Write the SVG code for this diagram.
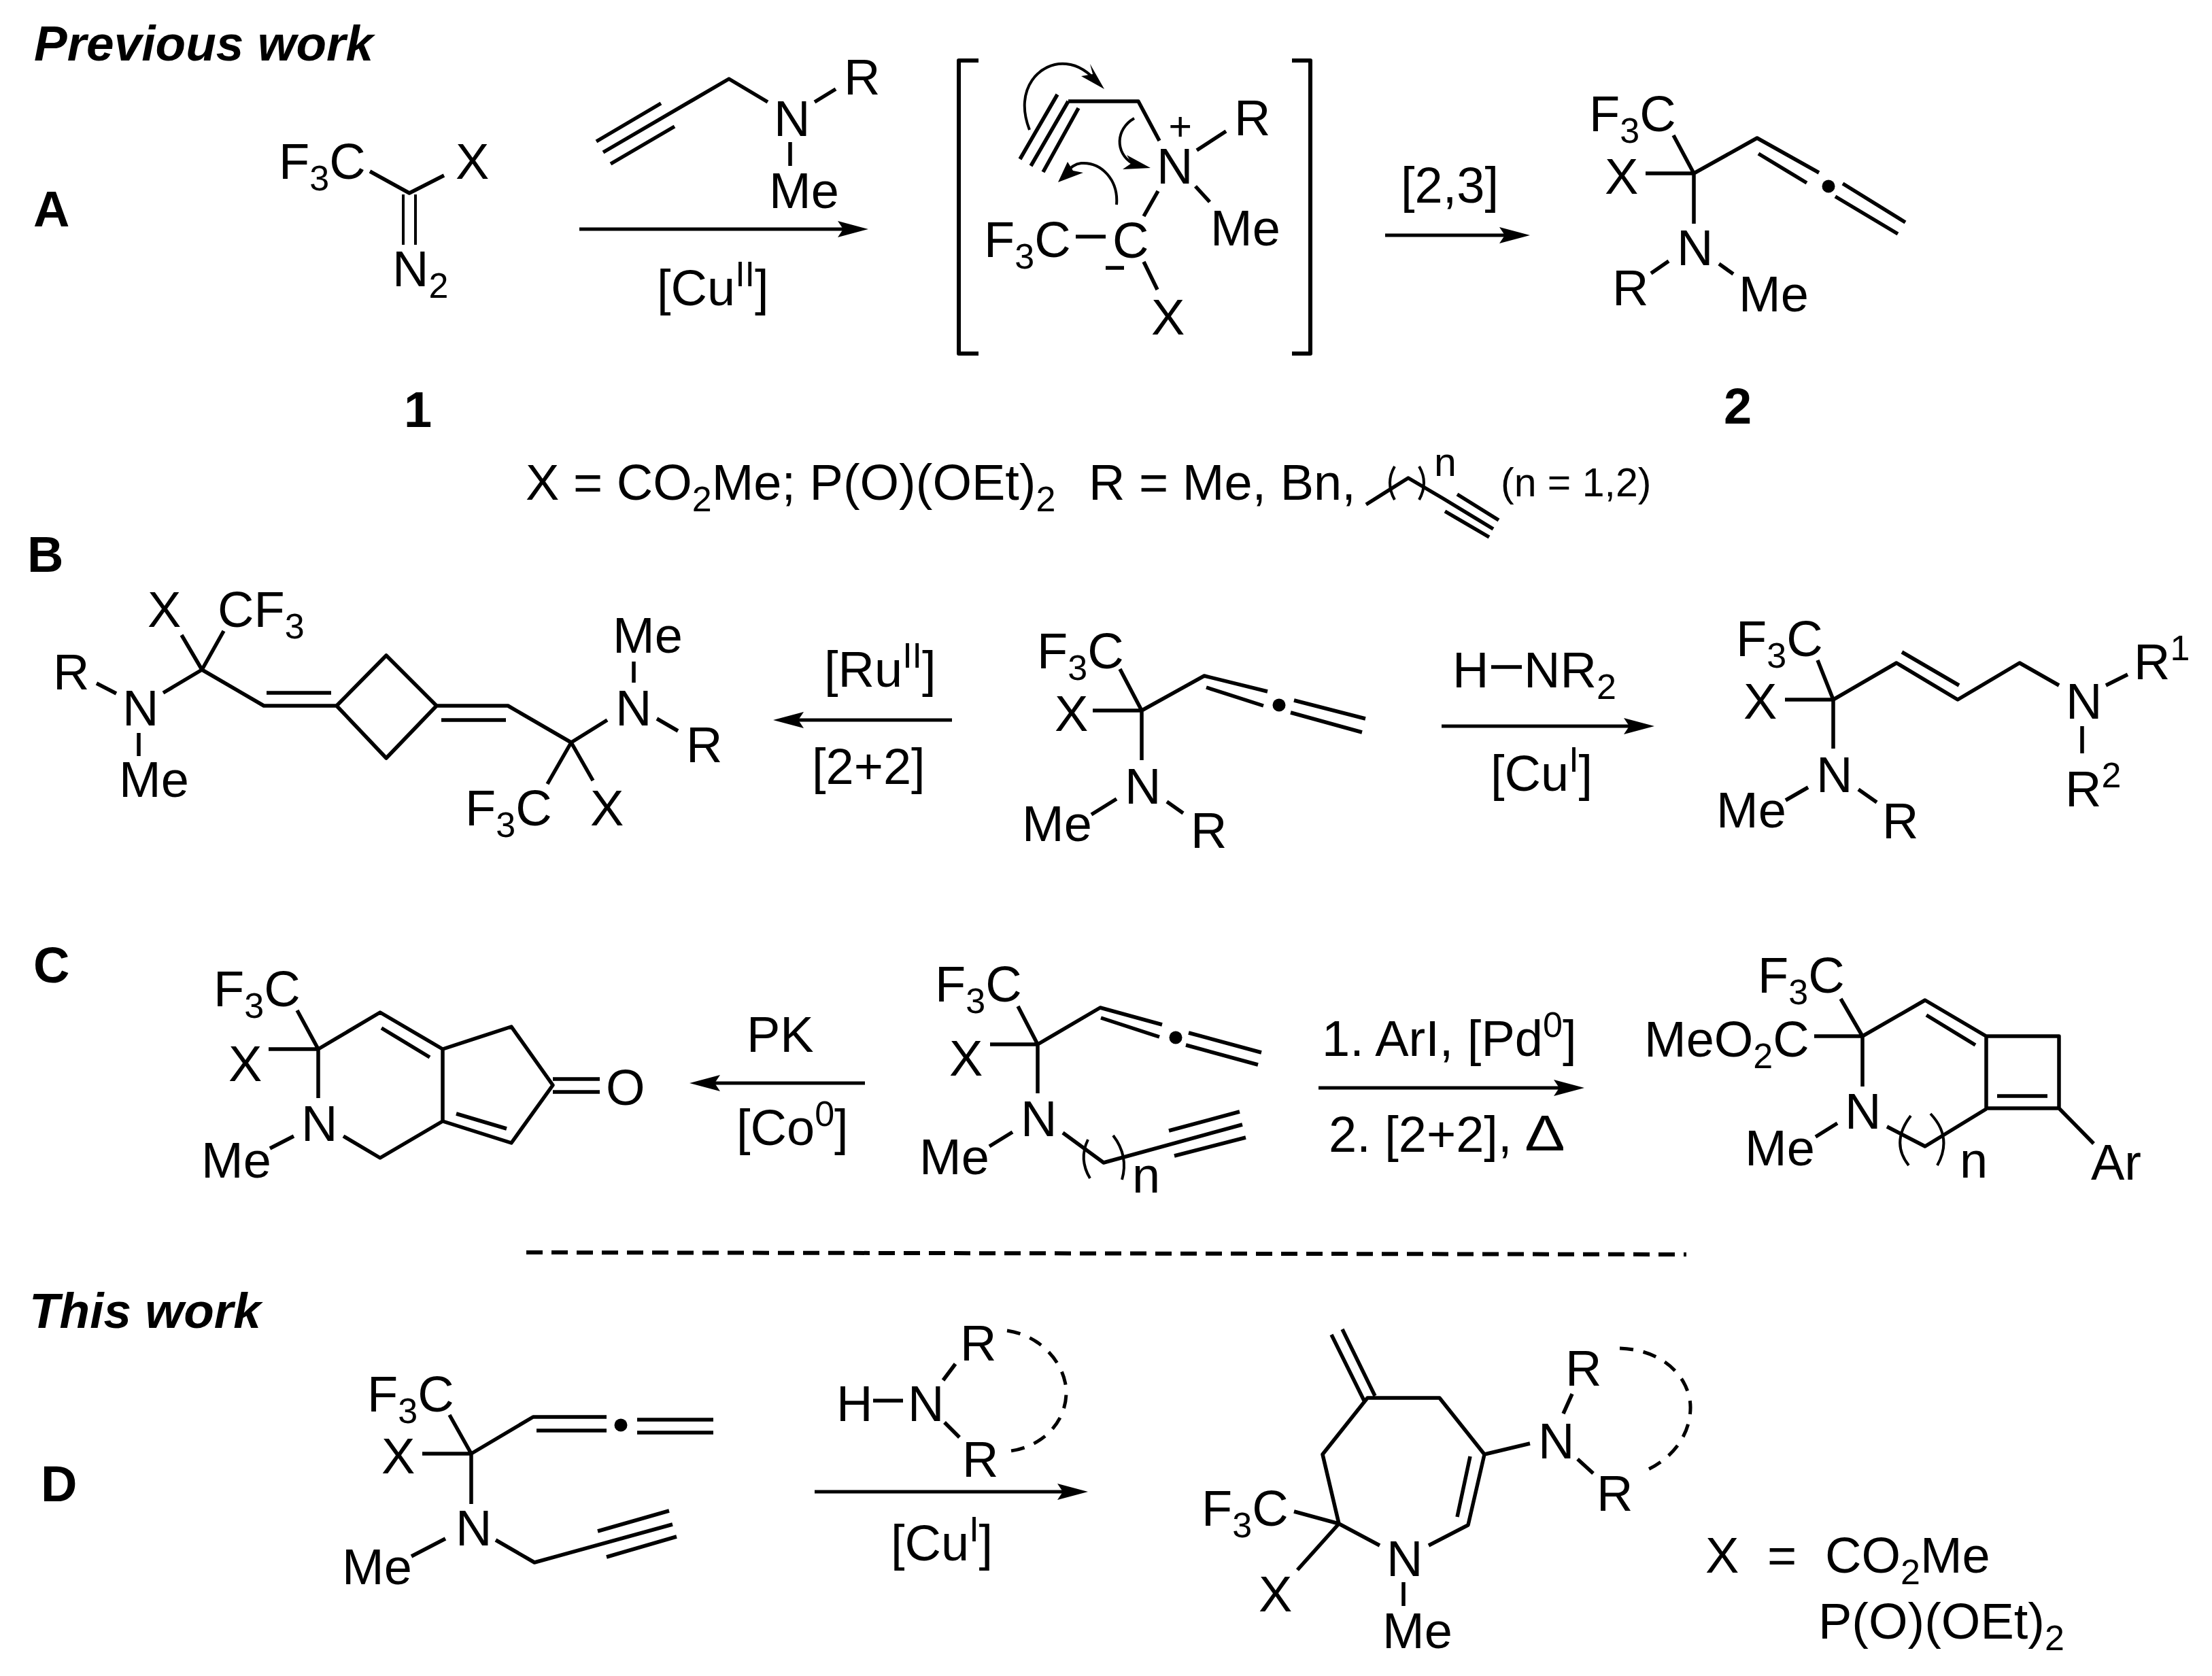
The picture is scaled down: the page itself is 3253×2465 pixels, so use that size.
<svg xmlns="http://www.w3.org/2000/svg" width="3253" height="2465" viewBox="0 0 3253 2465">
<defs>
<style>
text{font-family:"Liberation Sans",Arial,sans-serif;font-size:74px;fill:#000;transform:translateX(-4px)}
.h{font-weight:bold;font-style:italic;font-size:73px;transform:none}
.l{font-weight:bold;font-size:74px;transform:none}
.s{font-size:52px}
.m{font-size:59px}
.bd{fill:none;stroke:#000;stroke-width:5.5;stroke-linejoin:round}
.ar{fill:none;stroke:#000;stroke-width:5;marker-end:url(#head)}
.th{fill:none;stroke:#000;stroke-width:4}
.da{fill:none;stroke:#000;stroke-width:5;stroke-dasharray:20 15}
.dot{fill:#000}
</style>
<marker id="head" markerUnits="userSpaceOnUse" markerWidth="46" markerHeight="28" refX="25" refY="14" orient="auto"><path d="M0,2 L45,14 L0,26 L8,14z" fill="#000"/></marker>
</defs>
<rect width="3253" height="2465" fill="#fff"/>

<g id="labels">
<text class="h" x="50" y="89">Previous work</text>
<text class="h" x="43" y="1953">This work</text>
<text class="l" x="49" y="333">A</text>
<text class="l" x="40" y="841">B</text>
<text class="l" x="49" y="1445">C</text>
<text class="l" x="60" y="2208">D</text>
<text class="l" x="594" y="628">1</text>
<text class="l" x="2535" y="623">2</text>
</g>

<g id="connectors">
<path class="ar" d="M852,337H1257"/>
<path class="ar" d="M2037,346H2230"/>
<path class="ar" d="M1400,1059H1157"/>
<path class="ar" d="M2120,1068H2413"/>
<path class="ar" d="M1272,1593H1034"/>
<path class="ar" d="M1939,1600H2310"/>
<path class="ar" d="M1198,2194H1580"/>
<path style="fill:none;stroke:#000;stroke-width:6;stroke-dasharray:24 13" d="M774,1842L2480,1845"/>
</g>

<g id="cond-a1"><text x="970" y="449">[Cu<tspan class="s" dy="-28">II</tspan><tspan dy="28">]</tspan></text></g>
<g id="cond-a2"><text x="2064" y="298">[2,3]</text></g>
<g id="cond-b1"><text x="1216" y="1010">[Ru<tspan class="s" dy="-28">II</tspan><tspan dy="28">]</tspan></text><text x="1198" y="1153">[2+2]</text></g>
<g id="cond-b2"><text x="2140" y="1011">H</text><path class="bd" d="M2193,981H2238"/><text x="2245" y="1011">NR<tspan class="s" dy="17">2</tspan></text><text x="2196" y="1163">[Cu<tspan class="s" dy="-28">I</tspan><tspan dy="28">]</tspan></text></g>
<g id="cond-c1"><text x="1102" y="1547">PK</text><text x="1087" y="1684">[Co<tspan class="s" dy="-28">0</tspan><tspan dy="28">]</tspan></text></g>
<g id="cond-c2"><text x="1948" y="1553">1. ArI, [Pd<tspan class="s" dy="-28">0</tspan><tspan dy="28">]</tspan></text><text x="1958" y="1694">2. [2+2],</text><g transform="translate(2247,1692) scale(1.2,1)"><text>Δ</text></g></g>
<g id="cond-d"><text x="1314" y="2295">[Cu<tspan class="s" dy="-28">I</tspan><tspan dy="28">]</tspan></text></g>

<g id="mol-1">
<text x="414" y="263">F<tspan class="s" dy="17">3</tspan><tspan dy="-17">C</tspan></text>
<text x="674" y="263">X</text>
<text x="581" y="421">N<tspan class="s" dy="17">2</tspan></text>
<path class="bd" d="M544,252L602,284L653,258"/>
<path class="th" d="M593,286V360M611,286V360"/>
</g>

<g id="reagent-a">
<text x="1142" y="200">N</text><text x="1245" y="139">R</text><text x="1135" y="306">Me</text>
<path class="bd" d="M887,224L1072,116L1129,150M877,208L972,152M898,241L992,186M1198,150L1229,131M1162,209V244"/>
</g>

<g id="intermediate">
<path class="bd" style="stroke-width:6" d="M1439,89H1410V520H1439M1900,89H1927V520H1900"/>
<text x="1451" y="378">F<tspan class="s" dy="17">3</tspan><tspan dy="-17">C</tspan></text>
<text x="1640" y="379">C</text>
<text x="1705" y="270">N<tspan class="m" dx="-36" dy="-64">+</tspan></text>
<text x="1819" y="199">R</text>
<text x="1784" y="361">Me</text>
<text x="1697" y="492">X</text>
<path class="bd" d="M1555,139L1500,234M1571,149L1516,244M1586,159L1534,253M1571,149H1674L1705,207M1760,221L1803,193M1758,274L1779,297M1703,281L1682,318M1682,385L1702,426M1582,348H1626M1626,394H1653"/>
<path class="th" d="M1514,191C1490,130 1530,90 1568,94C1590,96 1605,110 1616,124"/>
<path class="dot" d="M1624,131L1590,112L1607,109L1603,94z"/>
<path class="th" d="M1642,301C1645,265 1620,238 1590,240C1580,241 1572,248 1566,256"/>
<path class="dot" d="M1556,268L1570,238L1578,251L1593,254z"/>
<path class="th" d="M1668,174C1640,190 1640,225 1665,240"/>
<path class="dot" d="M1692,247L1657,228L1664,240L1651,249z"/>
</g>

<g id="mol-2">
<text x="2341" y="193">F<tspan class="s" dy="17">3</tspan><tspan dy="-17">C</tspan></text>
<text x="2364" y="285">X</text>
<text x="2470" y="390">N</text>
<text x="2375" y="449">R</text>
<text x="2561" y="458">Me</text>
<path class="bd" d="M2461,199L2491,255L2584,203L2675,254M2586,226L2657,269M2420,255H2491V329M2710,270L2802,327M2699,289L2791,344M2454,384L2428,402M2528,388L2549,403"/>
<circle class="dot" cx="2689" cy="274" r="9.5"/>
</g>

<g id="definitions-a">
<text x="777" y="735">X = CO<tspan class="s" dy="17">2</tspan><tspan dy="-17">Me; P(O)(OEt)</tspan><tspan class="s" dy="17">2</tspan></text>
<text x="1605" y="735">R = Me, Bn,</text>
<text x="2113" y="700" class="m">n</text>
<text x="2211" y="730" class="m">(n = 1,2)</text>
<path class="bd" d="M2009,742L2071,703L2122,733L2196,778M2143,727L2204,765M2125,752L2190,790"/>
<path class="th" d="M2051,686Q2037,710 2051,735M2087,686Q2101,710 2087,735"/>
</g>

<g id="mol-b-left">
<text x="221" y="922">X</text>
<text x="324" y="922">CF<tspan class="s" dy="17">3</tspan></text>
<text x="82" y="1014">R</text>
<text x="184" y="1067">N</text>
<text x="179" y="1172">Me</text>
<text x="905" y="960">Me</text>
<text x="909" y="1067">N</text>
<text x="1013" y="1121">R</text>
<text x="688" y="1214">F<tspan class="s" dy="17">3</tspan><tspan dy="-17">C</tspan></text>
<text x="872" y="1214">X</text>
<path class="bd" d="M267,934L297,985L329,928M142,1005L171,1020M240,1019L297,985L388,1038H495M392,1019H487M204,1078V1112M495,1038L568,964L642,1038L568,1115Z M642,1038H747L840,1092M649,1059H744M932,973V1004M893,1059L840,1092M966,1057L997,1075M840,1092L805,1153M840,1092L872,1148"/>
</g>

<g id="mol-b-center">
<text x="1529" y="983">F<tspan class="s" dy="17">3</tspan><tspan dy="-17">C</tspan></text>
<text x="1555" y="1075">X</text>
<text x="1658" y="1182">N</text>
<text x="1507" y="1237">Me</text>
<text x="1755" y="1247">R</text>
<path class="bd" d="M1647,984L1679,1045L1771,994L1864,1017M1607,1045H1679V1118M1642,1175L1605,1198M1716,1179L1740,1196M1774,1011L1858,1038M1903,1030L2008,1057M1898,1048L2003,1077"/>
<circle class="dot" cx="1881" cy="1037" r="9.5"/>
</g>

<g id="mol-b-right">
<text x="2557" y="965">F<tspan class="s" dy="17">3</tspan><tspan dy="-17">C</tspan></text>
<text x="2568" y="1057">X</text>
<text x="2675" y="1165">N</text>
<text x="2528" y="1217">Me</text>
<text x="2772" y="1233">R</text>
<text x="3042" y="1057">N</text>
<text x="3142" y="999">R<tspan class="s" dy="-28">1</tspan></text>
<text x="3041" y="1186">R<tspan class="s" dy="-28">2</tspan></text>
<path class="bd" d="M2673,971L2696,1029L2789,975L2879,1029L2970,975L3028,1008M2625,1029H2696V1101M2659,1158L2626,1177M2733,1161L2760,1180M2797,959L2881,1008M3097,1008L3129,992M3062,1068V1108"/>
</g>

<g id="mol-c-left">
<text x="318" y="1480">F<tspan class="s" dy="17">3</tspan><tspan dy="-17">C</tspan></text>
<text x="340" y="1590">X</text>
<text x="447" y="1678">N</text>
<text x="300" y="1732">Me</text>
<text x="895" y="1625">O</text>
<path class="bd" d="M437,1486L468,1543L559,1489L651,1543V1649L559,1703L505,1671M395,1543H468V1615M432,1671L397,1689M561,1512L632,1555M651,1543L752,1510L813,1596L752,1681L651,1649M671,1638L745,1660M813,1587H882M813,1606H882"/>
</g>

<g id="mol-c-center">
<text x="1379" y="1473">F<tspan class="s" dy="17">3</tspan><tspan dy="-17">C</tspan></text>
<text x="1400" y="1582">X</text>
<text x="1505" y="1671">N</text>
<text x="1356" y="1727">Me</text>
<text x="1669" y="1754">n</text>
<path class="bd" d="M1497,1480L1526,1536L1618,1482L1709,1507M1456,1536H1526V1608M1489,1665L1455,1686M1619,1497L1705,1525M1748,1519L1855,1548M1744,1537L1850,1566M1563,1666L1623,1710L1827,1654M1719,1663L1823,1635M1727,1700L1832,1673"/>
<path class="th" d="M1600,1676Q1586,1705 1603,1733M1637,1670Q1660,1700 1650,1735"/>
<circle class="dot" cx="1729" cy="1526" r="9.5"/>
</g>

<g id="mol-c-right">
<text x="2589" y="1460">F<tspan class="s" dy="17">3</tspan><tspan dy="-17">C</tspan></text>
<text x="2422" y="1554">MeO<tspan class="s" dy="17">2</tspan><tspan dy="-17">C</tspan></text>
<text x="2717" y="1660">N</text>
<text x="2570" y="1714">Me</text>
<text x="2886" y="1732">n</text>
<text x="3079" y="1735">Ar</text>
<path class="bd" d="M2707,1469L2739,1524L2831,1471L2921,1524H3028V1630H2921V1524M2668,1524H2739V1598M2702,1652L2670,1672M2775,1657L2831,1686L2921,1631M2833,1493L2905,1537M2937,1612H3011M3028,1630L3079,1682"/>
<path class="th" d="M2810,1641Q2780,1680 2807,1714M2839,1638Q2872,1673 2849,1714"/>
</g>

<g id="mol-d-sm">
<text x="544" y="2076">F<tspan class="s" dy="17">3</tspan><tspan dy="-17">C</tspan></text>
<text x="565" y="2167">X</text>
<text x="674" y="2273">N</text>
<text x="507" y="2330">Me</text>
<path class="bd" d="M661,2081L693,2138L784,2084H892M789,2104H892M621,2138H693V2212M655,2263L605,2289M729,2265L786,2298L989,2242M879,2252L984,2222M892,2290L995,2260M937,2088H1049M937,2107H1049"/>
<circle class="dot" cx="913" cy="2096" r="9.5"/>
</g>

<g id="reagent-d">
<text x="1234" y="2090">H</text>
<text x="1339" y="2090">N</text>
<text x="1416" y="2001">R</text>
<text x="1419" y="2172">R</text>
<path class="bd" d="M1284,2060H1328M1387,2030L1405,2006M1389,2092L1411,2114"/>
<path class="da" d="M1481,1957C1535,1965 1568,2010 1568,2048C1568,2090 1535,2130 1478,2135"/>
</g>

<g id="product-d">
<text x="1771" y="2244">F<tspan class="s" dy="17">3</tspan><tspan dy="-17">C</tspan></text>
<text x="1855" y="2370">X</text>
<text x="2043" y="2318">N</text>
<text x="2037" y="2424">Me</text>
<text x="2266" y="2145">N</text>
<text x="2306" y="2038">R</text>
<text x="2352" y="2222">R</text>
<path class="bd" d="M1974,1955L2022,2053M1958,1963L2006,2060M2101,2273L2159,2243L2183,2139L2117,2056H2011L1945,2139L1969,2241L2029,2273M2162,2142L2143,2231M2064,2327V2362M1903,2223L1969,2241L1908,2309M2183,2139L2250,2123M2312,2050L2299,2079M2320,2146L2343,2167"/>
<path class="da" d="M2382,1983C2450,1985 2486,2030 2486,2070C2486,2110 2460,2145 2420,2163"/>
</g>

<g id="definitions-d">
<text x="2512" y="2313">X</text>
<text x="2603" y="2313">=</text>
<text x="2688" y="2313">CO<tspan class="s" dy="17">2</tspan><tspan dy="-17">Me</tspan></text>
<text x="2678" y="2410">P(O)(OEt)<tspan class="s" dy="17">2</tspan></text>
</g>
</svg>
